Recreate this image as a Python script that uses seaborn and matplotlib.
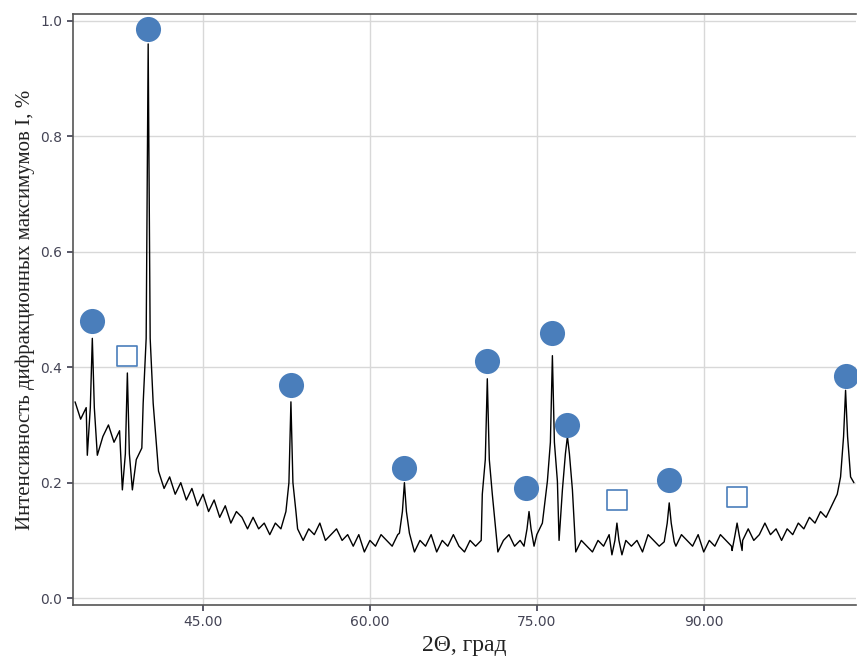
import matplotlib
matplotlib.use("Agg")
import matplotlib.pyplot as plt
import numpy as np
import pandas as pd
import seaborn as sns

# background profile, 0.5 deg step from 33.5 to 103.5
bg_start, bg_step = 33.5, 0.5
bg_values = [
    0.34, 0.31, 0.33, 0.29, 0.31, 0.28, 0.30, 0.27, 0.29, 0.26,
    0.27, 0.24, 0.26, 0.22, 0.20, 0.22, 0.19, 0.21, 0.18, 0.20,
    0.17, 0.19, 0.16, 0.18, 0.15, 0.17, 0.14, 0.16, 0.13, 0.15,
    0.14, 0.12, 0.14, 0.12, 0.13, 0.11, 0.13, 0.12, 0.11, 0.12,
    0.12, 0.10, 0.12, 0.11, 0.13, 0.10, 0.11, 0.12, 0.10, 0.11,
    0.09, 0.11, 0.08, 0.10, 0.09, 0.11, 0.10, 0.09, 0.11, 0.10,
    0.09, 0.08, 0.10, 0.09, 0.11, 0.08, 0.10, 0.09, 0.11, 0.09,
    0.08, 0.10, 0.09, 0.10, 0.11, 0.09, 0.08, 0.10, 0.11, 0.09,
    0.10, 0.12, 0.09, 0.11, 0.13, 0.12, 0.11, 0.10, 0.08, 0.07,
    0.08, 0.10, 0.09, 0.08, 0.10, 0.09, 0.11, 0.09, 0.08, 0.10,
    0.09, 0.10, 0.08, 0.11, 0.10, 0.09, 0.12, 0.10, 0.09, 0.11,
    0.10, 0.09, 0.11, 0.08, 0.10, 0.09, 0.11, 0.10, 0.09, 0.11,
    0.10, 0.12, 0.10, 0.11, 0.13, 0.11, 0.12, 0.10, 0.12, 0.11,
    0.13, 0.12, 0.14, 0.13, 0.15, 0.14, 0.16, 0.18, 0.22, 0.24, 0.20,
]

# diffraction peaks: position, top intensity, shoulder intensity
peak_pos = [35.05, 38.2, 40.07, 52.9, 63.1, 70.55, 74.3, 76.4, 77.75, 82.2, 86.9, 93.0, 102.75]
peak_top = [0.45, 0.39, 0.96, 0.34, 0.20, 0.38, 0.15, 0.42, 0.28, 0.13, 0.165, 0.13, 0.36]
peak_mid = [0.33, 0.25, 0.45, 0.20, 0.15, 0.24, 0.12, 0.27, 0.25, 0.10, 0.13, 0.11, 0.28]

# phase markers
circle_x = [35.05, 40.07, 52.9, 63.1, 70.55, 74.05, 76.4, 77.75, 86.9, 102.75]
circle_y = [0.48, 0.985, 0.37, 0.225, 0.41, 0.19, 0.46, 0.30, 0.205, 0.385]
square_x = [38.2, 82.2, 93.0]
square_y = [0.42, 0.17, 0.175]

bg_x = bg_start + bg_step * np.arange(len(bg_values))
keep = [all(abs(x - p) >= 0.5 for p in peak_pos) for x in bg_x]
xs = list(bg_x[keep])
ys = list(np.array(bg_values)[keep])
for p, t, m in zip(peak_pos, peak_top, peak_mid):
    xs += [p - 0.45, p - 0.18, p, p + 0.18, p + 0.45]
    ys += [m * 0.75, m, t, m, m * 0.75]
df = pd.DataFrame({"x": xs, "y": ys}).sort_values("x")

sns.set_theme(style="whitegrid")
fig = plt.figure(figsize=(8.57, 6.62), dpi=100)
ax = fig.add_axes([0.085, 0.086, 0.914, 0.893])
sns.lineplot(data=df, x="x", y="y", color="black", linewidth=1.0, sort=False, ax=ax)
sns.scatterplot(x=circle_x, y=circle_y, s=280, color="#4a7ebb", edgecolor="#4a7ebb", ax=ax, zorder=5)
sns.scatterplot(x=square_x, y=square_y, s=220, marker="s", facecolor="white",
                edgecolor="#4a7ebb", linewidth=1.2, ax=ax, zorder=5)

ax.set_xlim(33.3, 103.7)
ax.set_ylim(-0.012, 1.012)
ax.set_xticks([45, 60, 75, 90])
ax.set_xticklabels(["45.00", "60.00", "75.00", "90.00"])
ax.set_yticks([0.0, 0.2, 0.4, 0.6, 0.8, 1.0])
ax.set_yticklabels(["0.0", "0.2", "0.4", "0.6", "0.8", "1.0"])
ax.tick_params(labelsize=10, colors="#444455", length=4, left=True, bottom=True)
ax.grid(color="#d8d8d8", linewidth=1.0)
for s in ["left", "bottom", "top"]:
    ax.spines[s].set_color("#555555")
    ax.spines[s].set_linewidth(1.2)
ax.spines["right"].set_visible(False)
ax.set_xlabel("2Θ, град", family="Liberation Serif", fontsize=17, color="#222222")
ax.set_ylabel("Интенсивность дифракционных максимумов I, %", family="Liberation Serif",
              fontsize=15, color="#222222")
fig.savefig("out.png", dpi=100)
